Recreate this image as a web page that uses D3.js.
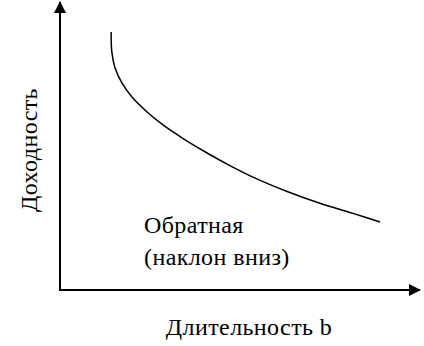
<!DOCTYPE html>
<html>
<head>
<meta charset="utf-8">
<script src="https://cdn.jsdelivr.net/npm/d3@7"></script>
<style>
  body { margin: 0; background: #fff; }
  svg { display: block; }
</style>
</head>
<body>
<svg></svg>
<script>
// inverse yield curve
let durations = [1.42, 1.44, 1.53, 1.72, 2.0, 2.42, 2.86, 3.42, 4.11, 4.72, 5.36, 6.31, 7.22, 8.14, 8.89];
let yields = [8.96, 8.26, 7.71, 7.19, 6.70, 6.18, 5.73, 5.26, 4.74, 4.32, 3.92, 3.42, 3.01, 2.66, 2.36];

let curveLabel = ['Обратная', '(наклон вниз)'];
let xTitle = 'Длительность b';
let yTitle = 'Доходность';

let width = 424;
let height = 346;
let serif = 'Liberation Serif';

let svg = d3.select('svg')
  .attr('width', width)
  .attr('height', height)

let xScale = d3.scaleLinear()
  .domain([0, 10])
  .range([60, 420])

let yScale = d3.scaleLinear()
  .domain([0, 10])
  .range([290, 2])

let values = durations.map((d, i) => {
  return { x: d, y: yields[i] }
})

let drawAxes = () => {
  let defs = svg.append('defs')
  defs.append('marker')
    .attr('id', 'arrow')
    .attr('viewBox', '0 0 12 12')
    .attr('refX', 11)
    .attr('refY', 6)
    .attr('markerWidth', 12)
    .attr('markerHeight', 12)
    .attr('markerUnits', 'userSpaceOnUse')
    .attr('orient', 'auto')
    .append('path')
    .attr('d', 'M0,0 L12,6 L0,12 Z')
    .attr('fill', '#000')

  // y axis
  svg.append('line')
    .attr('x1', xScale(0))
    .attr('y1', yScale(0) + 1)
    .attr('x2', xScale(0))
    .attr('y2', yScale(10))
    .attr('stroke', '#000')
    .attr('stroke-width', 2)
    .attr('marker-end', 'url(#arrow)')

  // x axis
  svg.append('line')
    .attr('x1', xScale(0) - 1)
    .attr('y1', yScale(0))
    .attr('x2', xScale(10))
    .attr('y2', yScale(0))
    .attr('stroke', '#000')
    .attr('stroke-width', 2)
    .attr('marker-end', 'url(#arrow)')
}

let drawCurve = () => {
  let line = d3.line()
    .x((d) => xScale(d.x))
    .y((d) => yScale(d.y))
    .curve(d3.curveCatmullRom)

  svg.append('path')
    .datum(values)
    .attr('d', line)
    .attr('fill', 'none')
    .attr('stroke', '#000')
    .attr('stroke-width', 1.5)
}

let drawText = () => {
  svg.selectAll('.curve-label')
    .data(curveLabel)
    .enter()
    .append('text')
    .attr('class', 'curve-label')
    .attr('x', 144)
    .attr('y', (d, i) => 233 + i * 32)
    .style('font-family', serif)
    .style('letter-spacing', '0.4px')
    .attr('font-size', 24)
    .text((d) => d)

  svg.append('text')
    .attr('x', 249)
    .attr('y', 335)
    .attr('text-anchor', 'middle')
    .style('font-family', serif)
    .style('letter-spacing', '0.4px')
    .attr('font-size', 24)
    .text(xTitle)

  svg.append('text')
    .attr('transform', 'translate(37, 150) rotate(-90)')
    .attr('text-anchor', 'middle')
    .style('font-family', serif)
    .style('letter-spacing', '0.4px')
    .attr('font-size', 24)
    .text(yTitle)
}

drawAxes()
drawCurve()
drawText()
</script>
</body>
</html>
